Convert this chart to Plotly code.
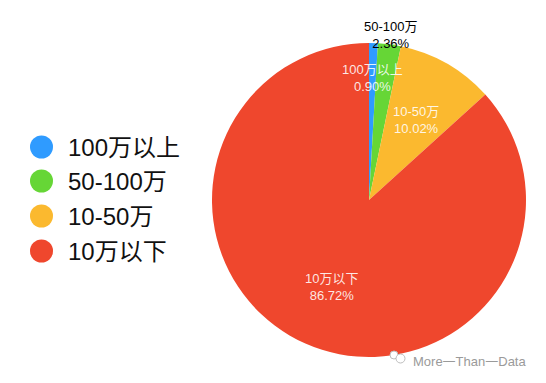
import plotly.graph_objects as go

categories = ["100万以上", "50-100万", "10-50万", "10万以下"]
values = [0.90, 2.36, 10.02, 86.72]
percent_labels = ["0.90%", "2.36%", "10.02%", "86.72%"]
colors = ["#2F9BFF", "#66D636", "#FBB92F", "#EF472D"]
label_colors = ["rgba(255,255,255,0.88)", "black", "rgba(255,255,255,0.88)", "rgba(255,255,255,0.88)"]
label_centers = [(372, 78), (390, 35), (416, 120), (331, 287)]
legend_rows = [147, 181, 216, 251]

W, H = 546, 383
FONT = "Liberation Sans, Arimo, Noto Sans CJK SC, sans-serif"
px = lambda x: x / W
py = lambda y: 1 - y / H

fig = go.Figure(go.Pie(
    labels=categories, values=values, sort=False, direction="clockwise", rotation=0,
    marker=dict(colors=colors, line=dict(width=0)),
    textinfo="none", showlegend=False, hoverinfo="label+percent",
    domain=dict(x=[px(212), px(526)], y=[py(357), py(43)]),
))

annotations = []
shapes = []
for cat, pct, col, (cx, cy) in zip(categories, percent_labels, label_colors, label_centers):
    annotations.append(dict(
        x=px(cx), y=py(cy), xref="paper", yref="paper", showarrow=False,
        text=f"{cat}<br>{pct}", align="center", xanchor="center", yanchor="middle",
        font=dict(family=FONT, size=13, color=col),
    ))

for cat, col, y in zip(categories, colors, legend_rows):
    shapes.append(dict(type="circle", xref="paper", yref="paper", line_width=0, fillcolor=col,
                       x0=px(30), x1=px(53), y0=py(y + 11.5), y1=py(y - 11.5)))
    annotations.append(dict(
        x=px(65.5), y=py(y), xref="paper", yref="paper", showarrow=False,
        text=cat, xanchor="left", yanchor="middle",
        font=dict(family=FONT, size=24, color="#111111"),
    ))

annotations.append(dict(
    x=px(410.5), y=py(361), xref="paper", yref="paper", showarrow=False,
    text="More一Than一Data", xanchor="left", yanchor="middle",
    font=dict(family=FONT, size=13, color="#9a9a9a"),
))
for x0, y0, d in [(390, 351, 8), (396, 354, 9)]:
    shapes.append(dict(type="circle", xref="paper", yref="paper",
                       line=dict(color="#bdbdbd", width=1), fillcolor="white",
                       x0=px(x0), x1=px(x0 + d), y0=py(y0 + d), y1=py(y0)))

fig.update_layout(
    width=W, height=H, margin=dict(l=0, r=0, t=0, b=0),
    paper_bgcolor="white", plot_bgcolor="white",
    annotations=annotations, shapes=shapes,
)
fig.write_html("out.html", config=dict(displayModeBar=False),
               post_script="document.body.style.margin='0';document.documentElement.style.overflow='hidden';")
